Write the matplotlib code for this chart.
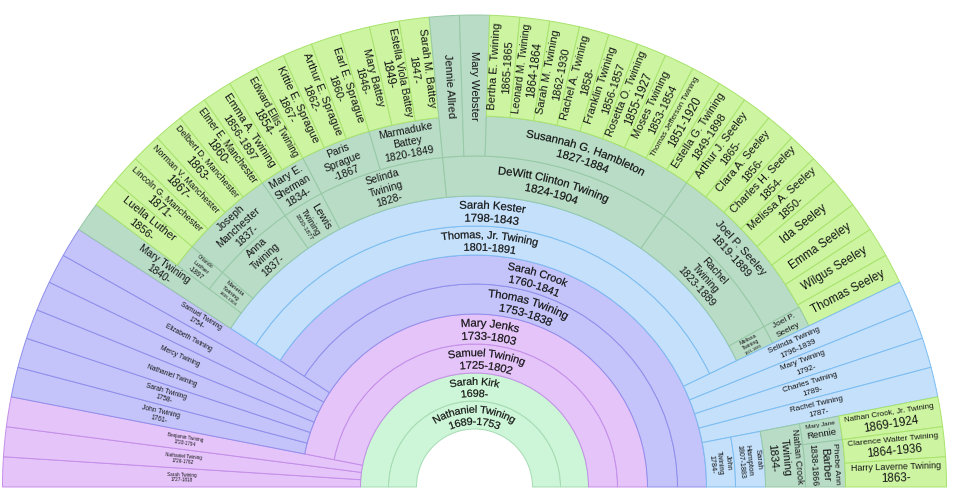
import numpy as np
import matplotlib
matplotlib.use("Agg")
import matplotlib.pyplot as plt
from matplotlib.patches import Wedge, PathPatch
from matplotlib.path import Path
from matplotlib.textpath import TextPath
from matplotlib.font_manager import FontProperties, findfont, get_font

# ---------------- data ----------------
# people: (key, label, parent union)  -- children listed left to right
people = [
    ("nat",   "Nathaniel Twining\n1689-1753", None),
    ("sarT",  "Sarah Twining\n1727-1818", "u_nat"),
    ("natT",  "Nathaniel Twining\n1726-1762", "u_nat"),
    ("benT",  "Benjamin Twining\n1720-1794", "u_nat"),
    ("sam",   "Samuel Twining\n1725-1802", "u_nat"),
    ("johT",  "John Twining\n1761-", "u_sam"),
    ("sarT2", "Sarah Twining\n1758-", "u_sam"),
    ("natT2", "Nathaniel Twining", "u_sam"),
    ("merT",  "Mercy Twining", "u_sam"),
    ("eliT",  "Elizabeth Twining", "u_sam"),
    ("samT",  "Samuel Twining\n1754-", "u_sam"),
    ("tho",   "Thomas Twining\n1753-1838", "u_sam"),
    ("thj",   "Thomas, Jr. Twining\n1801-1891", "u_tho"),
    ("selT",  "Selinda Twining\n1796-1839", "u_tho"),
    ("marT",  "Mary Twining\n1792-", "u_tho"),
    ("chaT",  "Charles Twining\n1789-", "u_tho"),
    ("racT",  "Rachel Twining\n1787-", "u_tho"),
    ("joh",   "John\nTwining\n1784-", "u_tho"),
    ("mar40", "Mary Twining\n1840-", "u_thj"),
    ("mari",  "Marietta\nTwining\n1838-1904", "u_thj"),
    ("anna",  "Anna\nTwining\n1837-", "u_thj"),
    ("lew",   "Lewis\nTwining\n1830-1877", "u_thj"),
    ("sel",   "Selinda\nTwining\n1828-", "u_thj"),
    ("dew",   "DeWitt Clinton Twining\n1824-1904", "u_thj"),
    ("rac",   "Rachel\nTwining\n1823-1889", "u_thj"),
    ("mel",   "Melissa\nTwining\n1821-1886", "u_thj"),
    ("nct",   "Nathan Crook\nTwining\n1834-", "u_joh"),
]

# unions: (key, person, spouse label, childless spouse reaches the rim)
unions = [
    ("u_nat",  "nat",  "Sarah Kirk\n1698-", True),
    ("u_sam",  "sam",  "Mary Jenks\n1733-1803", True),
    ("u_tho",  "tho",  "Sarah Crook\n1760-1841", True),
    ("u_thj",  "thj",  "Sarah Kester\n1798-1843", True),
    ("u_joh",  "joh",  "Sarah\nHampton\n1807-1883", True),
    ("u_mari", "mari", "Orlando\nLuther\n-1897", True),
    ("u_anna", "anna", "Joseph\nManchester\n1837-", True),
    ("u_lew",  "lew",  "Mary E.\nSherman\n1834-", True),
    ("u_sel1", "sel",  "Paris\nSprague\n-1867", True),
    ("u_sel2", "sel",  "Marmaduke\nBattey\n1820-1849", True),
    ("u_dew1", "dew",  "Jennie Allred", True),
    ("u_dew2", "dew",  "Mary Webster", True),
    ("u_dew3", "dew",  "Susannah G. Hambleton\n1827-1884", True),
    ("u_rac",  "rac",  "Joel P. Seeley\n1819-1889", True),
    ("u_mel",  "mel",  "Joel P.\nSeeley", False),
    ("u_nct1", "nct",  "Mary Jane\nRennie", True),
    ("u_nct2", "nct",  "Phebe Ann\nBarber\n1838-1866", True),
]

# outermost generation: (parent union, label)
grandchildren = [
    ("u_mari", "Luella Luther\n1856-"),
    ("u_anna", "Lincoln G. Manchester\n1871-"),
    ("u_anna", "Norman V. Manchester\n1867-"),
    ("u_anna", "Delbert D. Manchester\n1863-"),
    ("u_anna", "Elmer E. Manchester\n1860-"),
    ("u_lew",  "Emma A. Twining\n1856-1897"),
    ("u_lew",  "Edward Ellis Twining\n1854-"),
    ("u_sel1", "Kittie E. Sprague\n1867-"),
    ("u_sel1", "Arthur E. Sprague\n1862-"),
    ("u_sel1", "Earl E. Sprague\n1860-"),
    ("u_sel2", "Mary Battey\n1846-"),
    ("u_sel2", "Estella Viola Battey\n1849-"),
    ("u_sel2", "Sarah M. Battey\n1847-"),
    ("u_dew3", "Bertha E. Twining\n1865-1865"),
    ("u_dew3", "Leonard M. Twining\n1864-1864"),
    ("u_dew3", "Sarah M. Twining\n1862-1930"),
    ("u_dew3", "Rachel A. Twining\n1858-"),
    ("u_dew3", "Franklin Twining\n1856-1857"),
    ("u_dew3", "Rosetta O. Twining\n1855-1927"),
    ("u_dew3", "Moses Twining\n1853-1854"),
    ("u_dew3", "Thomas Jefferson Twining\n1851-1920"),
    ("u_dew3", "Estella G. Twining\n1849-1898"),
    ("u_rac",  "Arthur J. Seeley\n1865-"),
    ("u_rac",  "Clara A. Seeley\n1856-"),
    ("u_rac",  "Charles H. Seeley\n1854-"),
    ("u_rac",  "Melissa A. Seeley\n1850-"),
    ("u_rac",  "Ida Seeley"),
    ("u_rac",  "Emma Seeley"),
    ("u_rac",  "Wilgus Seeley"),
    ("u_rac",  "Thomas Seeley"),
    ("u_nct1", "Nathan Crook, Jr. Twining\n1869-1924"),
    ("u_nct2", "Clarence Walter Twining\n1864-1936"),
    ("u_nct2", "Harry Laverne Twining\n1863-"),
]

gen_face = ["#cdf5d7", "#e5c4fa", "#c4c4fa", "#c4e0fa", "#b9dcc7", "#cdf5a1"]
gen_edge = ["#a5dcb3", "#c48ee8", "#8f8fec", "#7cbdf2", "#97c9a6", "#a8e36c"]

# ---------------- geometry ----------------
W, H, DPI = 958, 504, 100
CX, CY = 474.5, 504 - 487
RADII = [58, 86, 114, 143, 173, 203, 232, 261, 291, 331, 371, 472]
R_OUT = RADII[-1]
FONT = "Liberation Sans"
TXT = "#141414"
CAP = 11.3
LEAF_CAP = 11.6
STRIP_CAP = {2: 4.6, 3: 6.6, 4: 8.0, 5: 11.3}

fp = FontProperties(family=FONT)
_font = get_font(findfont(fp))
_font.set_size(100, 72)
_adv = {}


def adv(c):
    if c not in _adv:
        try:
            g = _font.load_char(ord(c))
            _adv[c] = g.linearHoriAdvance / 65536.0 / 100.0
        except Exception:
            _adv[c] = 0.55
    return _adv[c]


def text_w(s):
    return sum(adv(c) for c in s)


# build tree
all_people = list(people)
for i, (u, lab) in enumerate(grandchildren):
    all_people.append(("gc%d" % i, lab, u))
label_of = {k: lab for k, lab, _ in all_people}
children_of = {u[0]: [] for u in unions}
for k, lab, par in all_people:
    if par is not None:
        children_of[par].append(k)
unions_of = {k: [] for k, _, _ in all_people}
spouse_of = {}
rim_of = {}
for uk, pk, sl, rim in unions:
    unions_of[pk].append(uk)
    spouse_of[uk] = sl
    rim_of[uk] = rim


def w_person(k):
    us = unions_of[k]
    if not us:
        return 1
    return sum(w_union(u) for u in us)


def w_union(u):
    kids = children_of[u]
    if kids:
        return sum(w_person(c) for c in kids)
    return 1 if rim_of[u] else 0


fig = plt.figure(figsize=(W / DPI, H / DPI), dpi=DPI)
ax = fig.add_axes([0, 0, 1, 1])
ax.set_xlim(0, W)
ax.set_ylim(0, H)
ax.axis("off")


def cell(r0, r1, a0, a1, gen):
    lo, hi = min(a0, a1), max(a0, a1)
    ax.add_patch(Wedge((CX, CY), r1, lo, hi, width=r1 - r0,
                       facecolor=gen_face[gen - 1], edgecolor=gen_edge[gen - 1],
                       linewidth=0.7, zorder=1))


def curved_line(s, rb, am, size):
    """Text bent along an arc of radius rb (baseline), centred on angle am."""
    tp = TextPath((0, 0), s, size=size, prop=fp)
    total = text_w(s) * size
    th0 = np.radians(am) + total / 2.0 / rb
    v = tp.vertices
    th = th0 - v[:, 0] / rb
    rr = rb + v[:, 1]
    nv = np.column_stack([CX + rr * np.cos(th), CY + rr * np.sin(th)])
    ax.add_patch(PathPatch(Path(nv, tp.codes), facecolor=TXT,
                           edgecolor=TXT, linewidth=0.15, zorder=3))


def label(text, r0, r1, a0, a1, cap):
    lo, hi = min(a0, a1), max(a0, a1)
    am = (lo + hi) / 2.0
    dth = np.radians(hi - lo)
    rm = (r0 + r1) / 2.0
    radial = r1 - r0
    arc = rm * dth
    if arc < radial:
        mode = "radial"
        L, T = radial - 10, arc * 0.95
    elif arc < 175:
        mode = "tan"
        L, T = rm * dth * 0.93, radial - 4
    else:
        mode = "curve"
        L, T = rm * dth * 0.9, radial - 4
    lines = text.split("\n")
    sizes = [min(cap, L / text_w(l)) for l in lines]
    tot = sum(1.15 * s for s in sizes)
    if tot > T:
        f = T / tot
        sizes = [s * f for s in sizes]
        tot = T
    off = -tot / 2.0
    th = np.radians(am)
    if mode == "curve":
        for l, s in zip(lines, sizes):
            c = off + 0.575 * s
            curved_line(l, rm - c - 0.36 * s, am, s)
            off += 1.15 * s
        return
    rot = (am if am <= 90 else am - 180) if mode == "radial" else am - 90
    pr = np.radians(rot)
    dx, dy = np.sin(pr), -np.cos(pr)
    x0, y0 = CX + rm * np.cos(th), CY + rm * np.sin(th)
    for l, s in zip(lines, sizes):
        c = off + 0.575 * s
        ax.text(x0 + c * dx, y0 + c * dy, l, rotation=rot, ha="center",
                va="center", rotation_mode="anchor",
                fontsize=s * 72.0 / DPI, family=FONT, color=TXT, zorder=3)
        off += 1.15 * s


def layout_children(kids, a0, a1):
    ws = [w_person(c) for c in kids]
    unit = (a0 - a1) / float(sum(ws))
    out = []
    a = a0
    for c, w in zip(kids, ws):
        if w == 0 and out:
            pk, (p0, p1), kr, wp = out[-1]
            cut = p0 - (p0 - p1) * wp / (wp + 1.0)
            out[-1] = (pk, (p0, cut), kr, wp)
            out.append((c, (cut, p1), (cut, p1), 0))
        else:
            out.append((c, (a, a - w * unit), (a, a - w * unit), w))
            a -= w * unit
    return out


def layout_person(k, cellr, kidr, gen):
    r_in = RADII[2 * gen - 2]
    us = unions_of[k]
    if not us:
        cell(r_in, R_OUT, cellr[0], cellr[1], gen)
        cap = LEAF_CAP if gen == 6 else STRIP_CAP.get(gen, CAP)
        label(label_of[k], r_in, R_OUT, cellr[0], cellr[1], cap)
        return
    r_mid, r_out = RADII[2 * gen - 1], RADII[2 * gen]
    cell(r_in, r_mid, cellr[0], cellr[1], gen)
    label(label_of[k], r_in, r_mid, cellr[0], cellr[1], CAP)
    ws = [w_union(u) for u in us]
    tw = float(sum(ws)) if sum(ws) > 0 else 1.0
    c0, k0 = cellr[0], kidr[0]
    cu = (cellr[0] - cellr[1]) / tw
    ku = (kidr[0] - kidr[1]) / tw
    for u, w in zip(us, ws):
        if sum(ws) == 0:
            w = 1
        sc = (c0, c0 - w * cu)
        sk = (k0, k0 - w * ku)
        c0 -= w * cu
        k0 -= w * ku
        kids = children_of[u]
        if kids:
            cell(r_mid, r_out, sc[0], sc[1], gen)
            label(spouse_of[u], r_mid, r_out, sc[0], sc[1], CAP)
            for c, cr, kr, _ in layout_children(kids, sk[0], sk[1]):
                layout_person(c, cr, kr, gen + 1)
        elif rim_of[u]:
            cell(r_mid, R_OUT, sc[0], sc[1], gen)
            label(spouse_of[u], r_mid, R_OUT, sc[0], sc[1], CAP)
        else:
            cell(r_mid, r_out, sc[0], sc[1], gen)
            label(spouse_of[u], r_mid, r_out, sc[0], sc[1], CAP)


layout_person("nat", (180.0, 0.0), (180.0, 0.0), 1)

fig.savefig("out.png", dpi=DPI, facecolor="white")
